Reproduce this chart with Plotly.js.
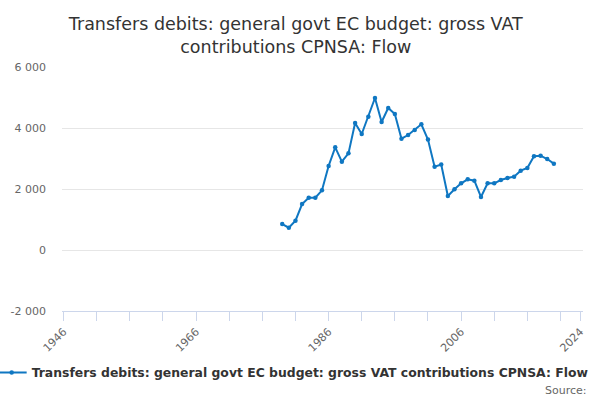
<!DOCTYPE html>
<html>
<head>
<meta charset="utf-8">
<script src="https://cdn.plot.ly/plotly-3.0.1.min.js"></script>
<style>html,body{margin:0;padding:0;background:#fff}#chart{width:600px;height:400px}</style>
</head>
<body>
<div id="chart"></div>
<script>
var years = [1979,1980,1981,1982,1983,1984,1985,1986,1987,1988,1989,1990,1991,1992,1993,1994,1995,1996,1997,1998,1999,2000,2001,2002,2003,2004,2005,2006,2007,2008,2009,2010,2011,2012,2013,2014,2015,2016,2017,2018,2019,2020];
var values = [852,731,961,1508,1716,1716,1956,2754,3366,2896,3169,4164,3803,4372,4984,4197,4656,4459,3650,3770,3934,4120,3620,2732,2800,1770,1989,2186,2317,2273,1738,2186,2186,2295,2361,2404,2601,2689,3072,3093,2984,2830];
var xTickVals = [1946,1951,1956,1961,1966,1971,1976,1981,1986,1991,1996,2001,2006,2011,2016,2021,2024];
var xTickText = ['1946','','','','1966','','','','1986','','','','2006','','','','2024'];
var yTickVals = [-2000,0,2000,4000,6000];
var yTickText = ['-2 000','0','2 000','4 000','6 000'];
var seriesName = 'Transfers debits: general govt EC budget: gross VAT contributions CPNSA: Flow';
var titleText = 'Transfers debits: general govt EC budget: gross VAT<br>contributions CPNSA: Flow';
var sourceText = 'Source:';

var font = 'DejaVu Sans, Verdana, sans-serif';
var trace = {
  x: years, y: values, type: 'scatter', mode: 'lines+markers',
  name: seriesName,
  line: {color: '#0f77c2', width: 2},
  marker: {color: '#0f77c2', size: 4.5}
};
var layout = {
  width: 600, height: 400,
  margin: {l: 62, r: 17, t: 67, b: 89, autoexpand: false},
  paper_bgcolor: '#fff', plot_bgcolor: '#fff',
  font: {family: font, color: '#666'},
  title: {text: titleText, font: {family: font, size: 17.5, color: '#333'}, x: 0.493, xanchor: 'center', yref: 'container', y: 0.925, yanchor: 'top'},
  xaxis: {
    range: [1945.76, 2024.4], tickmode: 'array', tickvals: xTickVals, ticktext: xTickText,
    tickangle: -45, ticks: 'outside', ticklen: 9, tickcolor: '#ccd6eb', tickwidth: 1,
    showline: true, linecolor: '#ccd6eb', linewidth: 1, showgrid: false, zeroline: false,
    tickfont: {family: font, size: 11, color: '#666'}
  },
  yaxis: {
    range: [-2000, 6000], tickmode: 'array', tickvals: yTickVals, ticktext: yTickText,
    showgrid: true, gridcolor: '#e6e6e6', gridwidth: 1, zeroline: false, showline: false,
    ticks: '', ticklabelstandoff: 15,
    tickfont: {family: font, size: 11, color: '#666'}
  },
  showlegend: true,
  legend: {orientation: 'h', x: -0.135, xanchor: 'left', yref: 'container', y: 0.0675, yanchor: 'middle',
    font: {family: font, size: 12.4, color: '#333', weight: 'bold'}, itemwidth: 30},
  annotations: [{text: sourceText, xref: 'paper', yref: 'paper', x: 1.0115, y: -0.324, xanchor: 'right', yanchor: 'middle',
    showarrow: false, font: {family: font, size: 11, color: '#666'}}]
};
Plotly.newPlot('chart', [trace], layout, {displayModeBar: false, staticPlot: true});
</script>
</body>
</html>
